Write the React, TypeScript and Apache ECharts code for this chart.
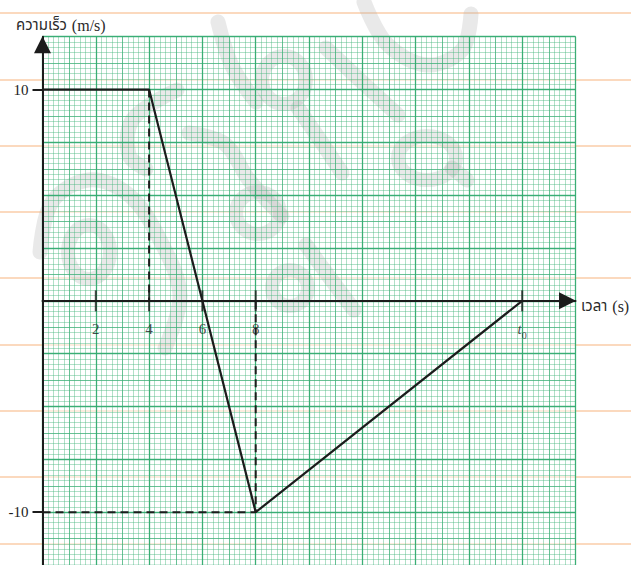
import React, { useEffect, useRef } from 'react';
import * as echarts from 'echarts';

// ---- data ----
const velocityPoints: [number, number][] = [[0, 10], [4, 10], [8, -10], [18, 0]];
const guide4: [number, number][] = [[4, 10], [4, 0]];
const guide8: [number, number][] = [[0, -10], [8, -10], [8, 0]];
const xTickValues = [2, 4, 6, 8, 18];
const xTickLabels = ['2', '4', '6', '8', 't0'];
const yTickValues = [10, -10];
const yTickLabels = ['10', '-10'];
const yAxisNameThai = 'ความเร็ว';
const yAxisNameUnit = '(m/s)';
const xAxisNameThai = 'เวลา';
const xAxisNameUnit = '(s)';

const SERIF = '"Liberation Serif", "Times New Roman", serif';
const THAI = '"Noto Sans Thai", "Noto Sans", "DejaVu Sans", sans-serif';
const INK = '#1c1c1c';

const MINOR = 'rgba(70,180,125,0.42)';
const MEDIUM = 'rgba(60,175,118,0.62)';
const MAJOR = 'rgba(50,170,112,0.85)';
const ORANGE = 'rgb(250,205,168)';
const WM = 'rgba(170,170,170,0.26)';

function paperX(interval: number, color: string, width: number, z: number) {
  return {
    gridIndex: 0, type: 'value', min: 0, max: 20, interval, z,
    axisLine: { show: false, onZero: false }, axisTick: { show: false }, axisLabel: { show: false },
    splitLine: { show: true, lineStyle: { color, width } },
  };
}
function paperY(interval: number, color: string, width: number, z: number) {
  return {
    gridIndex: 0, type: 'value', min: -12.5, max: 12.5, interval, z,
    axisLine: { show: false, onZero: false }, axisTick: { show: false }, axisLabel: { show: false },
    splitLine: { show: true, lineStyle: { color, width } },
  };
}

// faint watermark strokes (page decoration, not data)
function wmLine(points: number[][], smooth = 0.35) {
  return {
    type: 'polyline', z: 2, silent: true,
    shape: { points, smooth },
    style: { stroke: WM, lineWidth: 15, fill: null, lineCap: 'round', lineJoin: 'round' },
  };
}
function wmRing(cx: number, cy: number, rx: number, ry: number) {
  return {
    type: 'ellipse', z: 2, silent: true,
    shape: { cx, cy, rx, ry },
    style: { stroke: WM, lineWidth: 14, fill: null },
  };
}
const watermark = [
  wmLine([[218, 22], [232, 66], [256, 102]]),
  wmRing(284, 80, 22, 24),
  wmLine([[298, 108], [320, 140], [342, 173]]),
  wmLine([[326, 48], [362, 82], [398, 115]]),
  wmLine([[364, 2], [387, 44], [427, 65], [462, 50], [471, 14]]),
  wmRing(427, 158, 29, 22),
  wmLine([[452, 168], [467, 180]]),
  wmLine([[177, 90], [133, 119], [129, 155], [146, 169]]),
  wmLine([[189, 133], [225, 144], [249, 180], [282, 216]]),
  wmRing(258, 213, 22, 21),
  wmRing(290, 288, 18, 18),
  wmLine([[306, 245], [330, 278], [354, 310]]),
  wmLine([[40, 252], [52, 202], [89, 180], [129, 195], [160, 240], [180, 295], [165, 348]]),
  wmRing(89, 252, 21, 27),
];

export default function App() {
  const ref = useRef<HTMLDivElement>(null);
  useEffect(() => {
    if (!ref.current) return;
    const chart = echarts.init(ref.current, undefined, { renderer: 'svg' });
    const nameRich = {
      a: { fontFamily: THAI, fontSize: 15, color: '#2a2a2a', fontWeight: 'normal' },
      b: { fontFamily: SERIF, fontSize: 16, color: '#2a2a2a', fontWeight: 'normal' },
    };
    const option: any = {
      animation: false,
      backgroundColor: '#ffffff',
      title: [
        {
          text: `{a|${yAxisNameThai}} {b|${yAxisNameUnit}}`,
          left: 11, top: 11,
          textStyle: { fontWeight: 'normal', rich: nameRich },
        },
        {
          text: `{a|${xAxisNameThai}} {b|${xAxisNameUnit}}`,
          left: 576, top: 292,
          textStyle: { fontWeight: 'normal', rich: nameRich },
        },
      ],
      graphic: watermark,
      grid: [
        { left: 42.5, top: 36.7, width: 533, height: 532, show: true, z: 1,
          backgroundColor: 'rgba(255,255,255,0.5)', borderWidth: 0 },
        { left: 0, top: 13, width: 631, height: 530.4, show: false, z: 0 },
      ],
      xAxis: [
        {
          gridIndex: 0, type: 'value', min: 0, max: 20, z: 7,
          axisLine: {
            show: true, onZero: true, onZeroAxisIndex: 0,
            lineStyle: { color: INK, width: 2 },
            symbol: ['none', 'triangle'], symbolSize: [17, 17], symbolOffset: [0, -8],
          },
          axisTick: { show: false }, axisLabel: { show: false }, splitLine: { show: false },
        },
        paperX(0.2, MINOR, 1, 3),
        paperX(1, MEDIUM, 1, 4),
        paperX(2, MAJOR, 1.3, 5),
        { gridIndex: 1, type: 'value', min: 0, max: 1, show: false },
      ],
      yAxis: [
        {
          gridIndex: 0, type: 'value', min: -12.5, max: 12.5, z: 7,
          axisLine: {
            show: true, onZero: true, onZeroAxisIndex: 0,
            lineStyle: { color: INK, width: 2 },
            symbol: ['none', 'triangle'], symbolSize: [17, 17], symbolOffset: [0, -8],
          },
          axisTick: { show: true, customValues: yTickValues, length: 10, lineStyle: { color: INK, width: 2 } },
          axisLabel: {
            show: true, customValues: yTickValues, margin: 14,
            fontFamily: SERIF, fontSize: 15, color: INK,
            formatter: (v: number) => yTickLabels[yTickValues.indexOf(v)] ?? '',
          },
          splitLine: { show: false },
        },
        paperY(0.25, MINOR, 1, 3),
        paperY(1.25, MEDIUM, 1, 4),
        paperY(2.5, MAJOR, 1.3, 5),
        {
          gridIndex: 1, type: 'value', min: 0, max: 8, interval: 1, inverse: true, z: 0,
          axisLine: { show: false, onZero: false }, axisTick: { show: false }, axisLabel: { show: false },
          splitLine: { show: true, lineStyle: { color: ORANGE, width: 1.5 } },
        },
      ],
      series: [
        {
          type: 'line', name: 'guide4', xAxisIndex: 0, yAxisIndex: 0, data: guide4, z: 8,
          symbol: 'none', lineStyle: { color: INK, width: 2, type: [8, 5] },
        },
        {
          type: 'line', name: 'guide8', xAxisIndex: 0, yAxisIndex: 0, data: guide8, z: 8,
          symbol: 'none', lineStyle: { color: INK, width: 2, type: [8, 5] },
        },
        {
          type: 'line', name: 'velocity', xAxisIndex: 0, yAxisIndex: 0, data: velocityPoints, z: 9,
          symbol: 'none', lineStyle: { color: INK, width: 2.2 },
        },
        {
          type: 'scatter', name: 'ticks', xAxisIndex: 0, yAxisIndex: 0, z: 10,
          data: xTickValues.map((v) => [v, 0]),
          symbol: 'rect', symbolSize: [2, 21],
          itemStyle: { color: INK },
          label: {
            show: true, position: 'bottom', distance: 7,
            fontFamily: SERIF, fontSize: 15, color: INK, lineHeight: 22,
            formatter: (p: any) => {
              const s = xTickLabels[p.dataIndex];
              return s.length > 1 ? `{t|${s[0]}}{s|${s.slice(1)}}` : s;
            },
            rich: {
              t: { fontFamily: SERIF, fontSize: 15, fontStyle: 'italic', color: INK, lineHeight: 22 },
              s: { fontFamily: SERIF, fontSize: 10, color: INK, lineHeight: 10, verticalAlign: 'bottom' },
            },
          },
        },
      ],
    };
    chart.setOption(option);
    return () => chart.dispose();
  }, []);
  return (
    <div
      ref={ref}
      style={{ position: 'absolute', left: 0, top: 0, width: 631, height: 565 }}
    />
  );
}
